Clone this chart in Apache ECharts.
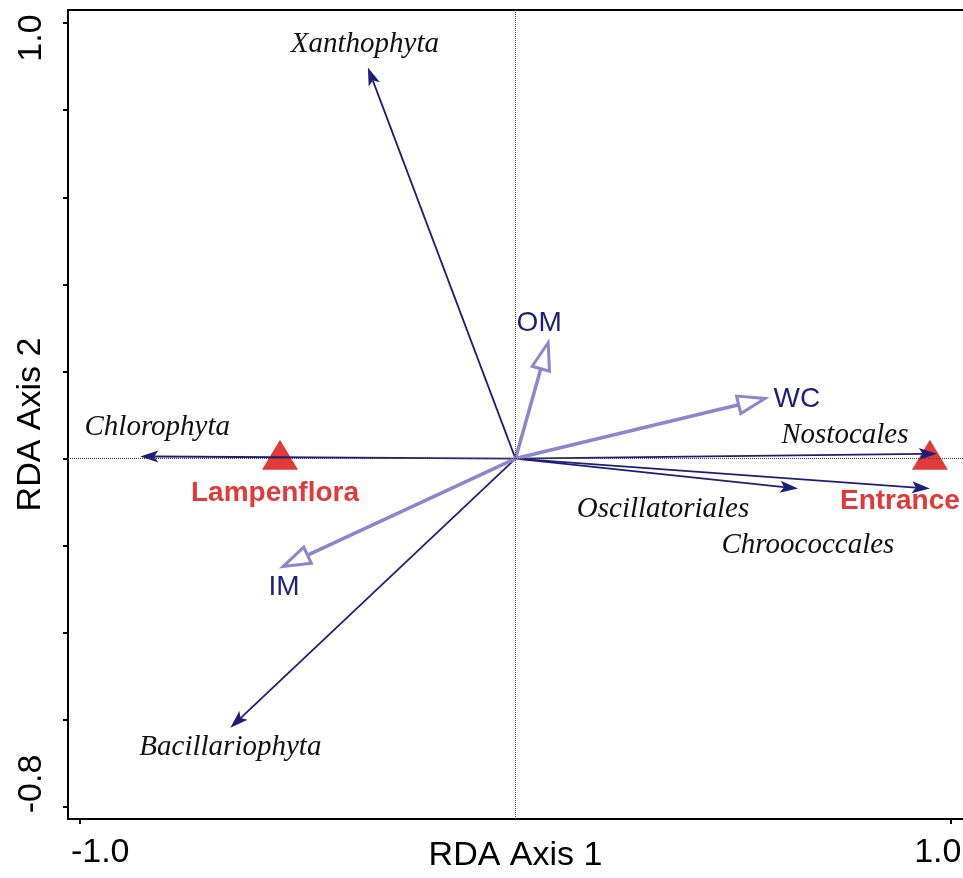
<!DOCTYPE html>
<html>
<head>
<meta charset="utf-8">
<script src="https://cdn.jsdelivr.net/npm/echarts@6/dist/echarts.min.js"></script>
<style>
  html, body { margin: 0; padding: 0; background: #fff; }
  #chart { width: 963px; height: 878px; }
</style>
</head>
<body>
<div id="chart"></div>
<script>
// species (response) arrows
var speciesNames = ['Xanthophyta', 'Chlorophyta', 'Bacillariophyta', 'Nostocales', 'Oscillatoriales', 'Chroococcales'];
var speciesX = [-0.339, -0.862, -0.655, 0.968, 0.649, 0.952];
var speciesY = [0.898, 0.005, -0.618, 0.011, -0.069, -0.069];

// environmental variable arrows
var envNames = ['OM', 'WC', 'IM'];
var envX = [0.075, 0.573, -0.534];
var envY = [0.266, 0.138, -0.248];

// sample groups
var sampleNames = ['Lampenflora', 'Entrance'];
var sampleX = [-0.541, 0.952];
var sampleY = [0.009, 0.009];

// ticks
var yTicks = [-0.8, -0.6, -0.4, -0.2, 0, 0.2, 0.4, 0.6, 0.8, 1.0];
var xTicks = [-1.0, 1.0];
var yTickLabels = ['1.0', '-0.8'];
var xTickLabels = ['-1.0', '1.0'];

// label placement (pixels from arrow tip / symbol)
var speciesLabelOffset = [[-3, -23], [17, -29], [0, 20], [-92, -18], [-135, 21], [-122, 57]];
var envLabelOffset = [[-9, -19], [32, 1], [1, 21]];
var sampleLabelOffset = [[-5, 39], [-30, 47]];

var NAVY = '#1e1e78';
var LILAC = '#8c86cc';
var RED = '#e23a3a';
var SANS = '"Liberation Sans", Arial, sans-serif';
var SERIF = '"Liberation Serif", "Times New Roman", serif';

var chart = echarts.init(document.getElementById('chart'));

function arrowRender(kind) {
    return function (params, api) {
        var i = api.value(2);
        var o = api.coord([0, 0]);
        var p = api.coord([api.value(0), api.value(1)]);
        var dx = p[0] - o[0], dy = p[1] - o[1];
        var len = Math.sqrt(dx * dx + dy * dy);
        var ux = dx / len, uy = dy / len;
        var nx = -uy, ny = ux;
        var children = [];
        if (kind === 'species') {
            var L = 18, W = 6, N = 4;
            var bx = p[0] - ux * (L - N), by = p[1] - uy * (L - N);
            children.push({
                type: 'line',
                shape: { x1: o[0], y1: o[1], x2: bx, y2: by },
                style: { stroke: NAVY, lineWidth: 1.8 }
            });
            children.push({
                type: 'polygon',
                shape: { points: [
                    [p[0], p[1]],
                    [p[0] - ux * L + nx * W, p[1] - uy * L + ny * W],
                    [bx, by],
                    [p[0] - ux * L - nx * W, p[1] - uy * L - ny * W]
                ] },
                style: { fill: NAVY }
            });
            var off = speciesLabelOffset[i];
            children.push({
                type: 'text',
                x: p[0] + off[0], y: p[1] + off[1],
                style: {
                    text: speciesNames[i], fill: '#111',
                    font: 'italic 29px ' + SERIF,
                    align: 'center', verticalAlign: 'middle'
                }
            });
        } else {
            var L2 = 27, W2 = 9;
            var b2x = p[0] - ux * L2, b2y = p[1] - uy * L2;
            children.push({
                type: 'line',
                shape: { x1: o[0], y1: o[1], x2: b2x, y2: b2y },
                style: { stroke: LILAC, lineWidth: 3.5 }
            });
            children.push({
                type: 'polygon',
                shape: { points: [
                    [p[0], p[1]],
                    [b2x + nx * W2, b2y + ny * W2],
                    [b2x - nx * W2, b2y - ny * W2]
                ] },
                style: { fill: 'none', stroke: LILAC, lineWidth: 3, lineJoin: 'miter' }
            });
            var off2 = envLabelOffset[i];
            children.push({
                type: 'text',
                x: p[0] + off2[0], y: p[1] + off2[1],
                style: {
                    text: envNames[i], fill: NAVY,
                    font: '28px ' + SANS,
                    align: 'center', verticalAlign: 'middle'
                }
            });
        }
        return { type: 'group', children: children };
    };
}

var option = {
    animation: false,
    backgroundColor: '#fff',
    grid: { left: 68, top: 10, width: 895, height: 810 },
    xAxis: [
        {
            type: 'value',
            min: -1.028, max: 1.028,
            name: 'RDA Axis 1',
            nameLocation: 'middle',
            nameGap: 20,
            nameTextStyle: { fontFamily: SANS, fontSize: 34, color: '#000', verticalAlign: 'top' },
            axisLine: { show: true, onZero: false, lineStyle: { color: '#000', width: 2 } },
            axisTick: { show: true, customValues: xTicks, length: 5, lineStyle: { color: '#000', width: 2 } },
            axisLabel: { show: false },
            splitLine: { show: false }
        },
        {
            // top frame line only (right edge of the frame is off the picture)
            type: 'value', position: 'top',
            min: -1.028, max: 1.028,
            axisLine: { show: true, onZero: false, lineStyle: { color: '#000', width: 2 } },
            axisTick: { show: false },
            axisLabel: { show: false },
            splitLine: { show: false }
        }
    ],
    yAxis: {
        type: 'value',
        min: -0.8276, max: 1.03,
        name: 'RDA Axis 2',
        nameLocation: 'middle',
        nameGap: 20,
        nameTextStyle: { fontFamily: SANS, fontSize: 34, color: '#000', padding: [0, 0, 0, -20] },
        axisLine: { show: true, onZero: false, lineStyle: { color: '#000', width: 2 } },
        axisTick: { show: true, customValues: yTicks, length: 5, lineStyle: { color: '#000', width: 2 } },
        axisLabel: { show: false },
        splitLine: { show: false }
    },
    series: [
        {
            type: 'scatter',
            symbol: 'triangle',
            symbolSize: [36, 30],
            itemStyle: { color: RED, opacity: 1 },
            z: 1,
            data: sampleNames.map(function (n, i) {
                return {
                    name: n,
                    value: [sampleX[i], sampleY[i]],
                    label: { offset: sampleLabelOffset[i] }
                };
            }),
            label: {
                show: true, position: 'inside',
                formatter: '{b}',
                color: RED, fontFamily: SANS, fontWeight: 'bold', fontSize: 28
            },
            markLine: {
                silent: true,
                symbol: 'none',
                label: { show: false },
                lineStyle: { color: '#444', type: 'dotted', width: 1 },
                data: [{ xAxis: 0 }, { yAxis: 0 }]
            }
        },
        {
            type: 'custom',
            renderItem: arrowRender('species'),
            z: 3,
            data: speciesX.map(function (x, i) { return [x, speciesY[i], i]; })
        },
        {
            type: 'custom',
            renderItem: arrowRender('env'),
            z: 4,
            data: envX.map(function (x, i) { return [x, envY[i], i]; })
        }
    ]
};
chart.setOption(option);

// rotated y tick labels and x tick labels placed next to their ticks
var yTop = chart.convertToPixel({ gridIndex: 0 }, [0, 1.0]);
var yBot = chart.convertToPixel({ gridIndex: 0 }, [0, -0.8]);
var xLeft = chart.convertToPixel({ gridIndex: 0 }, [-1.0, 0]);
var xRight = chart.convertToPixel({ gridIndex: 0 }, [1.0, 0]);
var tickFont = '34px ' + SANS;
chart.setOption({
    graphic: [
        { type: 'text', x: 32, y: yTop[1] + 15, rotation: Math.PI / 2,
          style: { text: yTickLabels[0], font: tickFont, fill: '#000', align: 'center', verticalAlign: 'middle' } },
        { type: 'text', x: 32, y: yBot[1] - 23, rotation: Math.PI / 2,
          style: { text: yTickLabels[1], font: tickFont, fill: '#000', align: 'center', verticalAlign: 'middle' } },
        { type: 'text', x: xLeft[0] + 20, y: 853,
          style: { text: xTickLabels[0], font: tickFont, fill: '#000', align: 'center', verticalAlign: 'middle' } },
        { type: 'text', x: xRight[0] - 13, y: 853,
          style: { text: xTickLabels[1], font: tickFont, fill: '#000', align: 'center', verticalAlign: 'middle' } }
    ]
});
</script>
</body>
</html>
